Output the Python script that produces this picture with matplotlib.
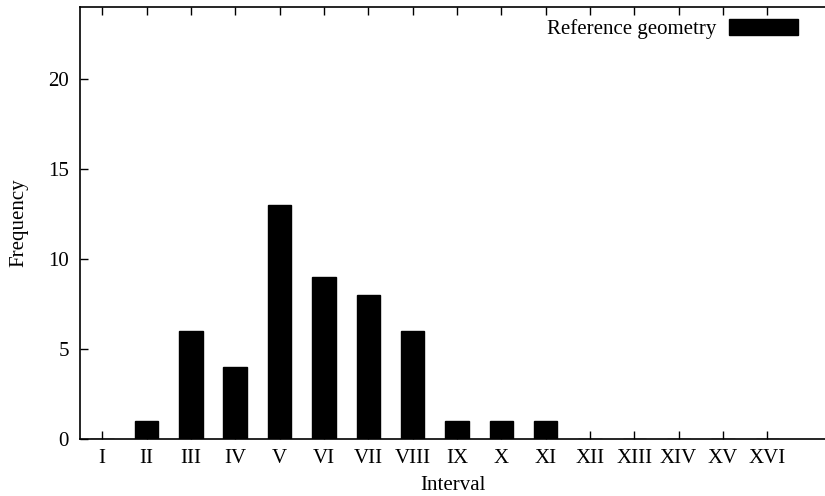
import matplotlib
matplotlib.use("Agg")
import matplotlib.pyplot as plt
import numpy as np

# Interval labels and frequency counts
intervals = ["I", "II", "III", "IV", "V", "VI", "VII", "VIII",
             "IX", "X", "XI", "XII", "XIII", "XIV", "XV", "XVI"]
frequency = [0, 1, 6, 4, 13, 9, 8, 6, 1, 1, 1, 0, 0, 0, 0, 0]
y_ticks = [0, 5, 10, 15, 20]

plt.rcParams["font.family"] = ["Liberation Serif", "DejaVu Serif"]
plt.rcParams["font.size"] = 15

fig = plt.figure(figsize=(8.25, 4.96), dpi=100)
ax = fig.add_axes([0.097, 0.115, 0.903, 0.871])

x = np.arange(len(intervals))
ax.bar(x, frequency, width=0.53, color="black", edgecolor="black",
       linewidth=1, label="Reference geometry")

ax.set_xlim(-0.5, 16.3)
ax.set_ylim(0, 24)
ax.set_xticks(x)
ax.set_xticklabels(intervals)
ax.set_yticks(y_ticks)

ax.spines["right"].set_visible(False)
for s in ["left", "top", "bottom"]:
    ax.spines[s].set_linewidth(1.2)

ax.tick_params(axis="x", direction="in", length=6, width=1, top=True, pad=7)
ax.tick_params(axis="y", direction="in", length=6, width=1, right=False, pad=8)

ax.set_xlabel("Interval", labelpad=6)
ax.set_ylabel("Frequency", labelpad=14)

ax.legend(loc="upper right", frameon=False, markerfirst=False,
          handlelength=3.3, handleheight=0.75, borderaxespad=0.2,
          handletextpad=0.6, bbox_to_anchor=(0.98, 1.0))

fig.savefig("out.png", dpi=100)
